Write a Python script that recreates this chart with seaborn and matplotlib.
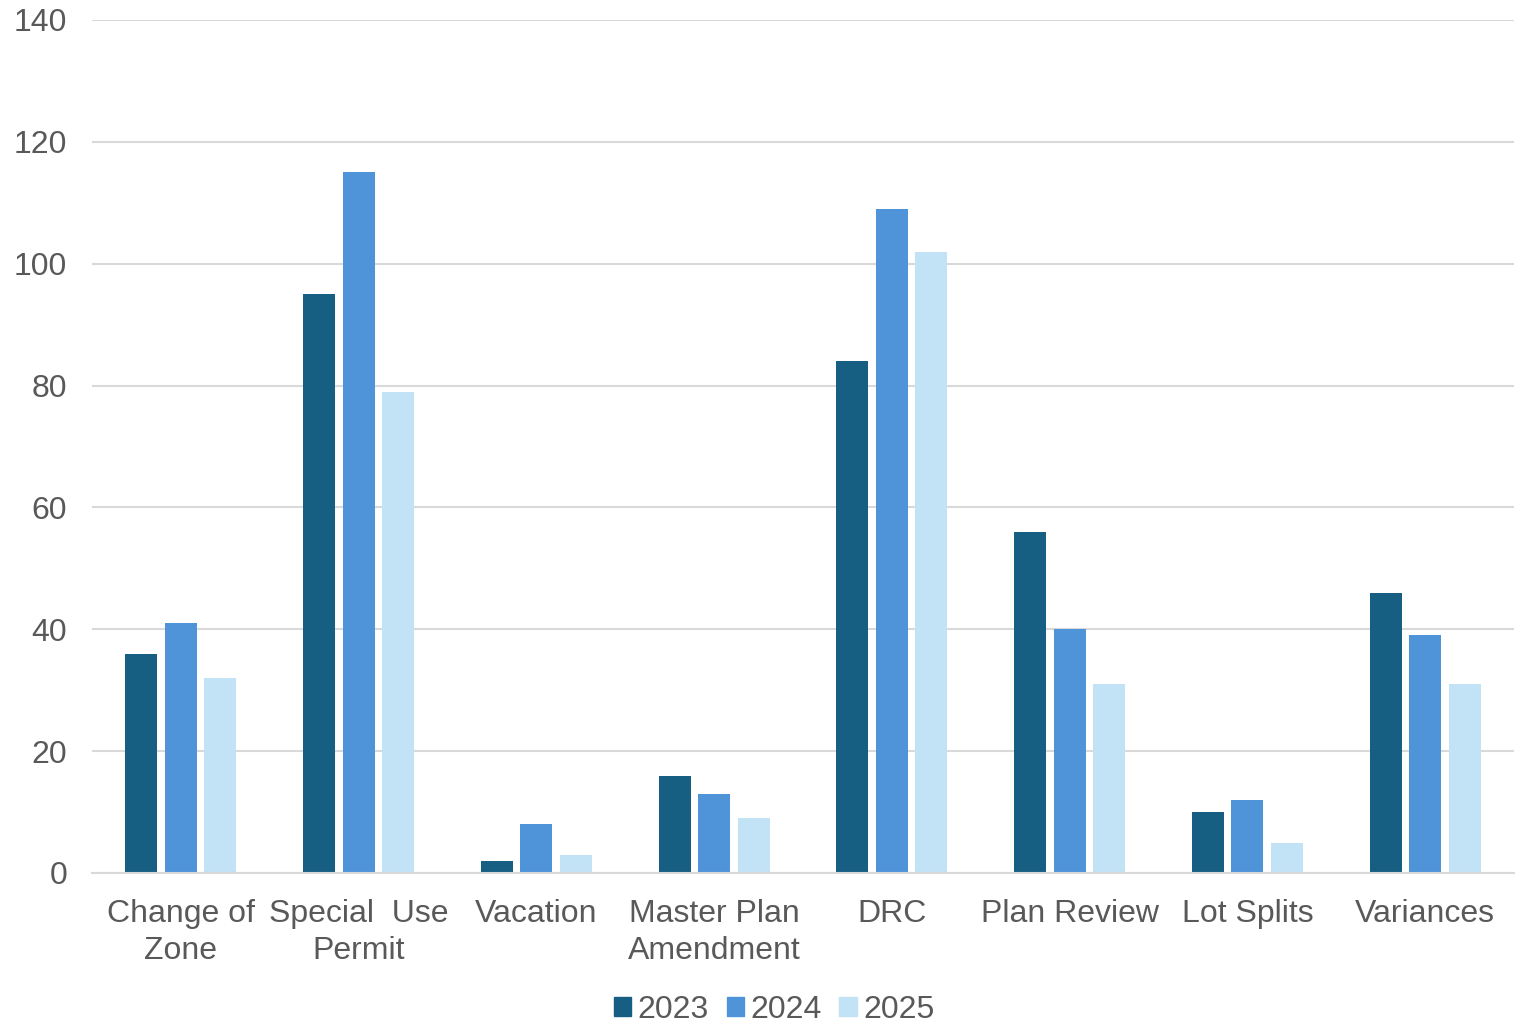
import pandas as pd
import matplotlib.pyplot as plt
import seaborn as sns

# categories and yearly counts
categories = ["Change of\nZone", "Special  Use\nPermit", "Vacation", "Master Plan\nAmendment",
              "DRC", "Plan Review", "Lot Splits", "Variances"]
years = ["2023", "2024", "2025"]
counts_2023 = [36, 95, 2, 16, 84, 56, 10, 46]
counts_2024 = [41, 115, 8, 13, 109, 40, 12, 39]
counts_2025 = [32, 79, 3, 9, 102, 31, 5, 31]
colors = ["#175F82", "#4F93D9", "#C1E3F5"]

# long-form table for seaborn
rows = []
for year, vals in zip(years, [counts_2023, counts_2024, counts_2025]):
    for cat, v in zip(categories, vals):
        rows.append({"category": cat, "year": year, "count": v})
df = pd.DataFrame(rows)

sns.set_style("white")
plt.rcParams["font.family"] = ["Liberation Sans", "DejaVu Sans"]

fig = plt.figure(figsize=(15.24, 10.25), dpi=100)
ax = fig.add_axes([0.0604, 0.1483, 0.9330, 0.8322])

sns.barplot(data=df, x="category", y="count", hue="year", palette=colors,
            width=0.667, gap=0.19, saturation=1, linewidth=0, ax=ax, legend=False)

ax.set_ylim(0, 140)
ax.set_yticks(range(0, 141, 20))
ax.set_xlim(-0.5, len(categories) - 0.5)
ax.grid(axis="y", color="#D9D9D9", linewidth=1.5)
ax.set_axisbelow(True)
for side in ["top", "right", "left"]:
    ax.spines[side].set_visible(False)
ax.spines["bottom"].set_color("#D9D9D9")
ax.spines["bottom"].set_linewidth(1.5)
ax.tick_params(axis="both", length=0, labelsize=23, labelcolor="#595959")
ax.tick_params(axis="x", pad=19)
ax.tick_params(axis="y", pad=18)
for lab in ax.get_xticklabels():
    lab.set_linespacing(1.3)
ax.set_xlabel("")
ax.set_ylabel("")

# legend with square markers at the bottom
handles = [plt.Rectangle((0, 0), 1, 1, color=c) for c in colors]
fig.legend(handles, years, loc="center", bbox_to_anchor=(0.508, 0.015), ncol=3,
           frameon=False, fontsize=23, labelcolor="#595959", handlelength=0.55,
           handleheight=0.55, handletextpad=0.2, columnspacing=0.55,
           borderpad=0.1)

fig.savefig("out.png", dpi=100)
